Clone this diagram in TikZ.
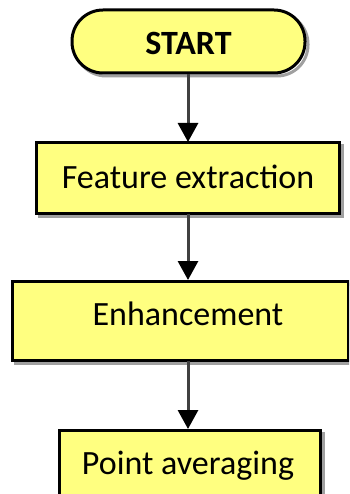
\documentclass[tikz,border=0pt]{standalone}
\usepackage{fontspec}
\setmainfont{Carlito}
\usetikzlibrary{arrows.meta}
\definecolor{boxfill}{HTML}{FFFF80}
\definecolor{shadowgray}{HTML}{A0A0A0}
\tikzset{
  x=1pt, y=-1pt,
  flowbox/.style={draw=black, line width=3pt, fill=boxfill},
  stadium/.style={flowbox, rounded corners=31pt},
  boxlabel/.style={inner sep=0pt, font=\fontsize{34}{38}\selectfont},
  boxshadow/.style={draw=shadowgray, line width=3pt},
  flowarrow/.style={draw=black!75, line width=3pt,
    -{Triangle[length=19pt,width=20pt,fill=black,color=black]}},
}
\begin{document}
\begin{tikzpicture}
\useasboundingbox (0,0) rectangle (349,494);
\clip (0,0) rectangle (349,494);
% soft gray shadows behind the boxes
\draw[boxshadow, rounded corners=31pt] (75,13) rectangle (308,76);
\draw[boxshadow] (39,146) rectangle (342,216);
\draw[boxshadow] (15,284) rectangle (351,363);
\draw[boxshadow] (62,433) rectangle (323,503);
% boxes and their labels
\draw[stadium] (72,10) rectangle (305,73);
\node[boxlabel, font=\bfseries\fontsize{34}{38}\selectfont] (start) at (188.5,43) {START};
\coordinate (startb) at (188,74);
\draw[flowbox] (36,143) rectangle (339,213);
\node[boxlabel] (feat) at (188,177) {Feature extraction};
\coordinate (featt) at (188,142);
\coordinate (featb) at (188,214);
\draw[flowbox] (12,281) rectangle (348,360);
\node[boxlabel] (enh) at (188,314) {Enhancement};
\coordinate (enht) at (188,280);
\coordinate (enhb) at (188,361);
\draw[flowbox] (59,430) rectangle (320,500);
\node[boxlabel] (pavg) at (188,466) {Point averaging};
\coordinate (pavgt) at (188,429);
% connectors
\draw[flowarrow] (startb) -- (featt);
\draw[flowarrow] (featb) -- (enht);
\draw[flowarrow] (enhb) -- (pavgt);
\end{tikzpicture}
\end{document}
